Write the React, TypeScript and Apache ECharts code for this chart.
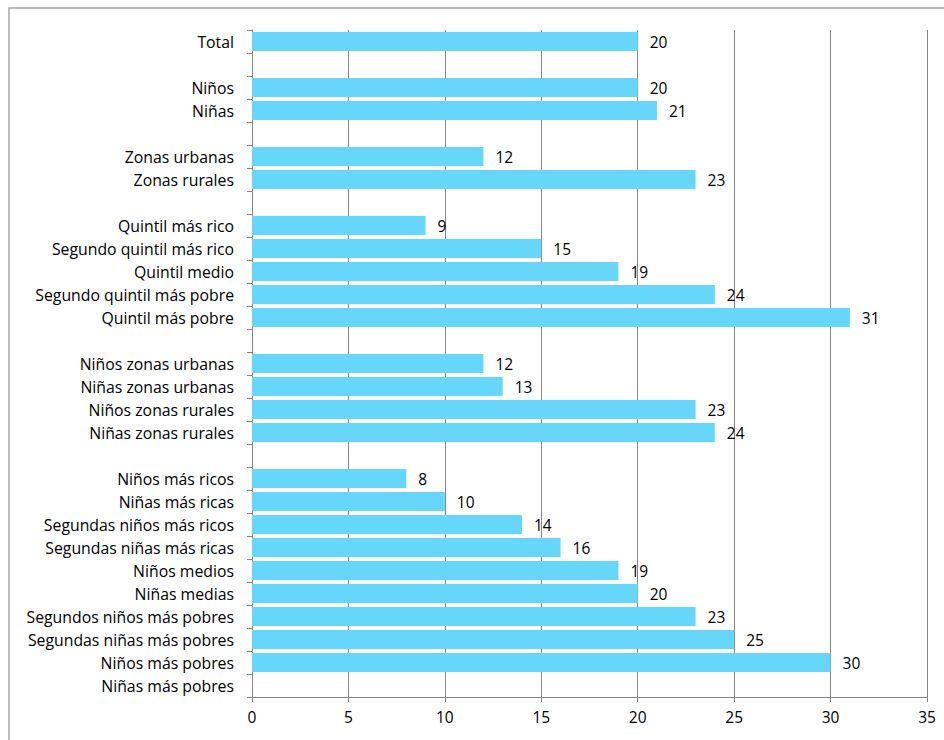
import React, { useEffect, useRef } from "react";
import * as echarts from "echarts";

const categories: string[] = [
  "Total",
  " ",
  "Niños",
  "Niñas",
  "  ",
  "Zonas urbanas",
  "Zonas rurales",
  "   ",
  "Quintil más rico",
  "Segundo quintil más rico",
  "Quintil medio",
  "Segundo quintil más pobre",
  "Quintil más pobre",
  "    ",
  "Niños zonas urbanas",
  "Niñas zonas urbanas",
  "Niños zonas rurales",
  "Niñas zonas rurales",
  "     ",
  "Niños más ricos",
  "Niñas más ricas",
  "Segundas niños más ricos",
  "Segundas niñas más ricas",
  "Niños medios",
  "Niñas medias",
  "Segundos niños más pobres",
  "Segundas niñas más pobres",
  "Niños más pobres",
  "Niñas más pobres",
];

const values: (number | null)[] = [
  20, null, 20, 21, null, 12, 23, null, 9, 15, 19, 24, 31, null, 12, 13, 23, 24,
  null, 8, 10, 14, 16, 19, 20, 23, 25, 30, null,
];

const xTicks = { min: 0, max: 35, interval: 5 };

export default function App() {
  const ref = useRef<HTMLDivElement>(null);
  useEffect(() => {
    if (!ref.current) return;
    const chart = echarts.init(ref.current, undefined, { renderer: "svg" });
    const font = "'Open Sans', sans-serif";
    chart.setOption({
      animation: false,
      backgroundColor: "#ffffff",
      textStyle: { fontFamily: font },
      grid: { left: 252, right: 17, top: 30, bottom: 43, containLabel: false },
      graphic: [
        {
          type: "rect",
          shape: { x: 9, y: 8, width: 1200, height: 1200 },
          style: { fill: "none", stroke: "#a6a6a6", lineWidth: 1.5 },
          silent: true,
        },
      ],
      xAxis: {
        type: "value",
        min: xTicks.min,
        max: xTicks.max,
        interval: xTicks.interval,
        axisLine: { show: true, lineStyle: { color: "#868686", width: 1 } },
        axisTick: { show: true, length: 5, lineStyle: { color: "#868686" } },
        axisLabel: { color: "#000", fontSize: 15.5, fontFamily: font, margin: 12 },
        splitLine: { show: true, lineStyle: { color: "#868686", width: 1 } },
      },
      yAxis: {
        type: "category",
        data: categories,
        inverse: true,
        axisLine: { show: true, lineStyle: { color: "#868686", width: 1 } },
        axisTick: { show: true, length: 5, lineStyle: { color: "#868686" } },
        axisLabel: { color: "#000", fontSize: 15.8, fontFamily: font, margin: 18 },
        splitLine: { show: false },
      },
      series: [
        {
          type: "bar",
          data: values,
          barCategoryGap: "17%",
          itemStyle: { color: "#66d6fb" },
          label: {
            show: true,
            position: "right",
            distance: 12,
            color: "#000",
            fontSize: 15.5,
            fontFamily: font,
          },
        },
      ],
    });
    return () => chart.dispose();
  }, []);
  return (
    <div
      ref={ref}
      style={{ position: "absolute", left: 0, top: 0, width: 944, height: 740 }}
    />
  );
}
